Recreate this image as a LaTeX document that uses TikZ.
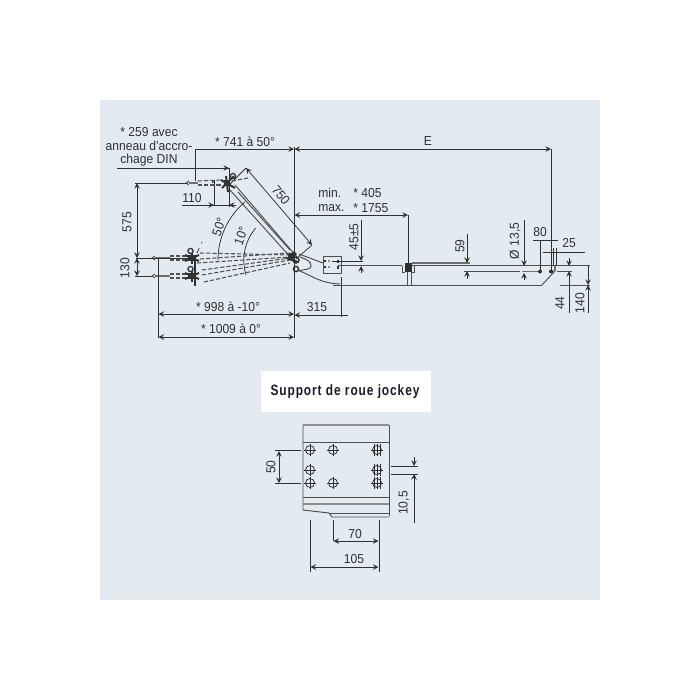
\documentclass[tikz,border=0pt]{standalone}
\usepackage{fontspec}
\setmainfont[FakeStretch=0.93]{Liberation Sans}
\newfontfamily\titlefont[LetterSpace=6,FakeStretch=0.8]{Liberation Sans}
\definecolor{panelbg}{HTML}{E3EAF0}
\definecolor{inkc}{HTML}{2E3134}
\definecolor{titlec}{HTML}{1C1C28}
\tikzset{
	dimline/.style={draw=inkc, line width=0.42pt},
	tube/.style={draw=inkc!85, line width=0.55pt},
	heavy/.style={draw=inkc!70, line width=1.1pt},
	hidden/.style={draw=inkc!85, line width=0.6pt, dash pattern=on 2.4pt off 1.1pt},
	lbl/.style={inner sep=0pt, text=inkc, font=\fontsize{7.4}{7.6}\selectfont},
}
\begin{document}
\begin{tikzpicture}[x=0.02cm, y=-0.02cm, >=stealth]
	\useasboundingbox (0,0) rectangle (700,700);
	\fill[panelbg] (100,100) rectangle (600,600);
	\fill[white] (261,371) rectangle (431,412);
	
	%top dimensions
	\draw[dimline] (294,147) -- (294,338);
	\draw[dimline,<->] (294.5,149) -- (551,149);
	\draw[dimline] (551,149) -- (551,272);
	\draw[dimline,->] (195,149) -- (294,149);
	\draw[dimline] (195,149) -- (195,181);
	\node[lbl] (labE) at (428,141) {E};
	\node[lbl] (lab741) at (245,142) {* 741 à 50°};
	\node[lbl,align=center] (lab259) at (149,147) {* 259 avec\\anneau d'accro-\\chage DIN};
	\draw[dimline] (117,168) -- (229,168);
	\draw[dimline,->] (190,168) -- (229,168);
	\draw[dimline] (229,168) -- (229,207);
	
	%110
	\draw[dimline] (182,205) -- (236,205);
	\draw[dimline,->] (203,205) -- (214,205);
	\draw[dimline,<-] (229,205) -- (236,205);
	\draw[dimline] (214,180) -- (214,205);
	\node[lbl] (lab110) at (192,198) {110};
	
	%575 and 130
	\draw[dimline,<->] (137,183) -- (137,258);
	\draw[dimline,<->] (137,258) -- (137,276);
	\draw[dimline] (135,183) -- (188,183);
	\draw[dimline] (135,276) -- (152,276);
	\node[lbl,rotate=90] (lab575) at (127,222) {575};
	\node[lbl,rotate=90] (lab130) at (125,268) {130};
	
	%arm at 50 degrees
	\draw[tube] (230,190) -- (293,260);
	\draw[tube] (235,185) -- (297,257);
	\draw[tube] (238,192) -- (290,250);
	\draw[dimline,<->] (246,168) -- (312,245);
	\draw[dimline] (246,168) -- (229,185);
	\draw[dimline] (312,245) -- (296,259);
	\node[lbl,rotate=-50] (lab750) at (281,195) {750};
	
	%angles
	\draw[dimline] (218,260) arc[start angle=180, end angle=130, radius=1.52cm];
	\draw[dimline] (246,275) arc[start angle=197, end angle=140, radius=1cm];
	\node[lbl,rotate=70] (lab50) at (219,227) {50°};
	\node[lbl,rotate=70] (lab10) at (241,236) {10°};
	
	%drawbar in raised position
	\draw[heavy] (189,183) -- (198,183);
	\draw[hidden] (198,181) -- (222,180);
	\draw[hidden] (198,185) -- (222,185);
	\draw[tube] (189,181) -- (186,183) -- (189,185);
	\draw[hidden] (232,181) -- (248,178);
	\fill[inkc] (213,182) circle (1.2);
	\fill[inkc] (224,180) rectangle (230,186);
	\draw[line width=1.1pt,inkc] (222,188) -- (234,176);
	\draw[line width=1.1pt,inkc] (221,180) -- (235,188);
	\draw[line width=1.1pt,inkc] (226,176) -- (228,192);
	\draw[line width=0.7pt,inkc] (233,176) circle (2.6);
	
	%drawbar at 0 and -10 degrees
	\foreach \y in {258,276}
	{
		\draw[heavy] (155,\y) -- (170,\y);
		\draw[hidden] (170,\y-2) -- (188,\y-2);
		\draw[hidden] (170,\y+2) -- (188,\y+2);
		\draw[tube] (155,\y-2) -- (152,\y) -- (155,\y+2);
		\fill[inkc] (188,\y-3) rectangle (196,\y+3);
		\draw[line width=1.1pt,inkc] (185,\y+3) -- (199,\y-3);
		\draw[line width=1.1pt,inkc] (185,\y-3) -- (199,\y+3);
		\draw[line width=1.1pt,inkc] (192,\y-5) -- (192,\y+6);
		\draw[line width=0.7pt,inkc] (190.5,\y-7) circle (2.6);
	}
	\draw[dimline] (136,258) -- (190,258);
	\draw[dimline,dashed] (197,253) -- (202,242);
	\draw[line width=0.8pt,inkc] (195,260) -- (195,286);
	\draw[hidden] (200,253) -- (290,255);
	\draw[hidden] (197,263) -- (290,257);
	\draw[hidden] (200,259) -- (290,253);
	\draw[hidden] (202,270) -- (290,258);
	\draw[hidden] (202,275) -- (290,260);
	\draw[hidden] (204,282) -- (290,263);
	
	%pivot and coupling head
	\fill[inkc] (291,256) circle (3.2);
	\draw[line width=1.1pt,inkc] (286,258) -- (298,262);
	\draw[line width=0.9pt,inkc] (294,254) circle (1.8);
	\draw[line width=0.8pt,inkc] (296,260) circle (3);
	\draw[line width=0.8pt,inkc] (296,269) circle (2.6);
	\draw[tube] (299,254) -- (323,263);
	\draw[tube] (300,257) .. controls (310,260) and (315,266) .. (308,269) -- (297,271);
	\draw[tube] (297,270) .. controls (312,275) and (318,283) .. (340,284);
	
	%chassis beam
	\draw[tube,fill=panelbg] (323,256) rectangle (341,273);
	\foreach \y in {261,267}
	{
		\draw[inkc,line width=0.6pt] (325,\y-1) -- (325,\y+1);
		\fill[inkc] (329,\y) circle (0.9);
		\draw[inkc,line width=0.6pt] (338,\y-1.5) -- (338,\y+1.5);
	}
	\draw[tube] (338,265.5) -- (402,265.5);
	\draw[tube] (412,265.5) -- (590,265.5);
	\draw[tube] (333,285) -- (542,285);
	\draw[tube] (560,285) -- (590,285);
	\draw[tube] (542,285) -- (553,273);
	\draw[heavy] (553,273) -- (555,270) -- (555,266);
	\draw[tube] (464,271) -- (520,271);
	\draw[tube] (557,271.5) -- (572,271.5);
	\draw[heavy] (412,263) -- (470,263);
	
	%cross member
	\fill[inkc] (405,263) rectangle (412,272);
	\draw[tube] (402,266) -- (402,272) -- (405,272);
	\draw[tube] (414,266) -- (414,272) -- (412,272);
	\draw[tube] (407,272) -- (407,285);
	\draw[tube] (411,272) -- (411,285);
	\draw[dimline,<->] (294.5,215) -- (408,215);
	\draw[dimline] (408,215) -- (408,263);
	\node[lbl,anchor=west] (labmin) at (318,193) {min.};
	\node[lbl,anchor=west] (labmax) at (318,208) {max.};
	\node[lbl,anchor=west] (lab405) at (353,193) {* 405};
	\node[lbl,anchor=west] (lab1755) at (353,208) {* 1755};
	
	%45 and 59
	\draw[dimline] (332,261) -- (363,261);
	\draw[dimline,->] (361,220) -- (361,261);
	\draw[dimline,<-] (361,266) -- (361,273);
	\node[lbl,rotate=90] (lab45) at (354,237) {45±5};
	\draw[dimline,->] (467,234) -- (467,263);
	\draw[dimline,<-] (467,271) -- (467,279);
	\node[lbl,rotate=90] (lab59) at (460,246) {59};
	
	%holes at the rear end
	\draw[dimline,->] (524,220) -- (524,266);
	\draw[dimline,<-] (524,273) -- (524,280);
	\draw[heavy] (522,271.5) -- (538,271.5);
	\fill[inkc] (540,271.5) circle (2);
	\fill[inkc] (551,271.5) circle (2);
	\node[lbl,rotate=90] (lab135) at (515,241) {Ø 13,5};
	\draw[dimline] (533,240) -- (558,240);
	\draw[dimline] (540,240) -- (540,271);
	\node[lbl] (lab80) at (540,232) {80};
	\draw[dimline] (543,252) -- (585,252);
	\draw[dimline] (553,248) -- (553,266);
	\draw[dimline] (556,248) -- (556,266);
	\node[lbl] (lab25) at (569,243) {25};
	\draw[dimline,->] (569,258) -- (569,266);
	\draw[dimline,<-] (569,271) -- (569,313);
	\node[lbl,rotate=90] (lab44) at (560,303) {44};
	\draw[dimline,->] (588,266) -- (588,285);
	\draw[dimline,<-] (588,285) -- (588,313);
	\node[lbl,rotate=90] (lab140) at (580,303) {140};
	
	%lower dimensions
	\draw[dimline] (341,277) -- (341,317);
	\draw[dimline,<-] (294.5,315) -- (341,315);
	\draw[dimline] (341,315) -- (348,315);
	\node[lbl] (lab315) at (317,307) {315};
	\draw[dimline,<->] (158.5,314) -- (294,314);
	\draw[dimline,<->] (158.5,337) -- (294,337);
	\draw[dimline] (158,258) -- (158,338);
	\node[lbl] (lab998) at (228,307) {* 998 à -10°};
	\node[lbl] (lab1009) at (231,329) {* 1009 à 0°};
	
	%jockey wheel support
	\node[inner sep=0pt, text=titlec, font=\titlefont\bfseries\fontsize{8.5}{9}\selectfont] (labtitle) at (345,392) {Support de roue jockey};
	\draw[line width=0.9pt,inkc!55] (303,425) -- (389,425);
	\draw[tube] (303,425) -- (303,510) -- (329,513);
	\draw[tube] (389,425) -- (389,516);
	\draw[tube] (303,442) -- (389,442);
	\draw[tube] (303,497) -- (389,497);
	\draw[line width=0.9pt,inkc!55] (303,504) -- (389,504);
	\draw[tube] (329,513) -- (389,513);
	\draw[tube] (329,513) -- (332,517) -- (389,517);
	\foreach \x/\y in {310/450,333/450,377/450,310/470,377/470,310/483,333/483,377/483}
	{
		\draw[inkc,line width=0.42pt] (\x,\y) circle (4.5);
		\draw[inkc,line width=0.42pt] (\x-6,\y) -- (\x+6,\y);
		\draw[inkc,line width=0.42pt] (\x,\y-6) -- (\x,\y+6);
	}
	\foreach \y in {450,470,483}
	{
		\draw[inkc,line width=0.42pt] (374,\y-6) -- (374,\y+6);
		\draw[inkc,line width=0.42pt] (380,\y-6) -- (380,\y+6);
	}
	
	%support dimensions
	\draw[dimline] (275,450.5) -- (301,450.5);
	\draw[dimline] (275,483.5) -- (301,483.5);
	\draw[dimline,<->] (279,451) -- (279,483);
	\node[lbl,rotate=90] (lab50s) at (271,467) {50};
	\draw[dimline] (391,466) -- (418,466);
	\draw[dimline] (391,474) -- (418,474);
	\draw[dimline,->] (414,457) -- (414,466);
	\draw[dimline,<-] (414,474) -- (414,523);
	\node[lbl,rotate=90] (lab105v) at (404,503) {10,5};
	\draw[dimline] (333,520) -- (333,541);
	\draw[dimline] (379,520) -- (379,572);
	\draw[dimline] (310,520) -- (310,572);
	\draw[dimline,<->] (333.5,541) -- (378.5,541);
	\draw[dimline,<->] (310.5,567) -- (378.5,567);
	\node[lbl] (lab70) at (355,534) {70};
	\node[lbl] (lab105) at (354,559) {105};
\end{tikzpicture}
\end{document}
